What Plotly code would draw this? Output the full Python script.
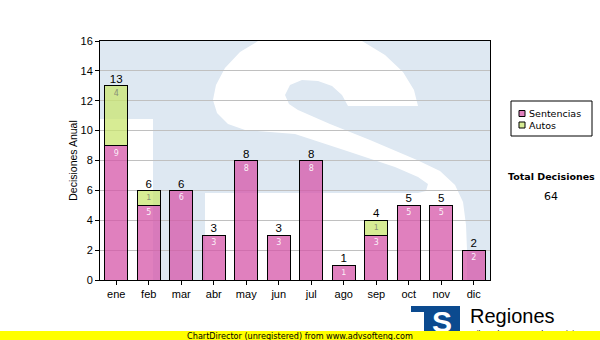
import plotly.graph_objects as go

# ---- data -------------------------------------------------------------
months = ["ene", "feb", "mar", "abr", "may", "jun", "jul", "ago", "sep", "oct", "nov", "dic"]
sentencias = [9, 5, 6, 3, 8, 3, 8, 1, 3, 5, 5, 2]
autos = [4, 1, 0, 0, 0, 0, 0, 0, 1, 0, 0, 0]
series_names = ["Sentencias", "Autos"]
y_title = "Decisiones Anual"
total_title = "Total Decisiones"
brand_name = "Regiones"
brand_sub = "Tribunal Supremo de Justicia"
banner_text = "ChartDirector (unregistered) from www.advsofteng.com"

totals = [s + a for s, a in zip(sentencias, autos)]
grand_total = sum(totals)

# ---- geometry helpers (pixel -> paper) -------------------------------
W, H = 600, 340
ML, MR, MT, MB = 100, 110, 41, 60
PW, PH = W - ML - MR, H - MT - MB


def px(x):
    return (x - ML) / PW


def py(y):
    return (H - MB - y) / PH


def path_from(points):
    return "M " + " L ".join(f"{px(x):.4f},{py(y):.4f}" for x, y in points) + " Z"


PINK = "rgba(214,86,168,0.75)"
GREEN = "rgba(202,230,112,0.75)"
PINK_SOLID = "#e080be"
GREEN_SOLID = "#d7ec94"
WM_BLUE = "#dee8f2"
LOGO_BLUE = "#0b4a8f"

fig = go.Figure()

fig.add_trace(go.Bar(
    x=months, y=sentencias, name=series_names[0],
    marker=dict(color=PINK, line=dict(color="black", width=1)),
    text=[str(v) if v else "" for v in sentencias],
    textposition="inside", insidetextanchor="end", textangle=0,
    textfont=dict(size=8, color="rgba(255,255,255,0.9)", family="Verdana, DejaVu Sans"),
    width=0.7, showlegend=False, hoverinfo="skip",
))
fig.add_trace(go.Bar(
    x=months, y=[v if v else None for v in autos], name=series_names[1],
    marker=dict(color=GREEN, line=dict(color="black", width=1)),
    text=[str(v) if v else "" for v in autos],
    textposition="inside", insidetextanchor="end", textangle=0,
    textfont=dict(size=8, color="rgba(110,110,110,0.75)", family="Verdana, DejaVu Sans"),
    width=0.7, showlegend=False, hoverinfo="skip",
))
# stack totals above each bar
fig.add_trace(go.Scatter(
    x=months, y=totals, mode="text", text=[str(t) for t in totals],
    textposition="top center", cliponaxis=False,
    textfont=dict(size=11.5, color="black", family="Arial, Liberation Sans"),
    showlegend=False, hoverinfo="skip",
))

shapes = []
# watermark: light-blue field with a white "TS" cut into it
shapes.append(dict(type="rect", xref="paper", yref="paper", x0=0, x1=1, y0=0, y1=1,
                   fillcolor=WM_BLUE, line=dict(width=0), layer="below"))
shapes.append(dict(type="rect", xref="paper", yref="paper", x0=px(100), x1=px(153),
                   y0=py(280), y1=py(119), fillcolor="white", line=dict(width=0), layer="below"))
s_outline = [
    (258, 41), (362, 41),
    (385, 55), (403, 72), (414, 90), (418, 106),
    (348, 106),
    (342, 95), (332, 86), (318, 81), (302, 80), (290, 85), (285, 95), (289, 104), (298, 110),
    (330, 124), (370, 140), (417, 160), (440, 171), (455, 185), (463, 202),
    (466, 225), (467, 250), (467, 280),
    (205, 280), (205, 193),
    (418, 193), (426, 191), (428, 184), (418, 177), (395, 167), (350, 152),
    (295, 134), (270, 132), (245, 130), (228, 124), (217, 113),
    (213, 100), (216, 85), (225, 68), (240, 52), (255, 43),
]
shapes.append(dict(type="path", xref="paper", yref="paper", path=path_from(s_outline),
                   fillcolor="white", line=dict(width=0), layer="below"))

# legend box
shapes.append(dict(type="rect", xref="paper", yref="paper", x0=px(511), x1=px(592),
                   y0=py(136), y1=py(101), fillcolor="white", line=dict(color="black", width=1)))
for i, col in enumerate([PINK_SOLID, GREEN_SOLID]):
    yc = 113.5 + i * 11.5
    shapes.append(dict(type="rect", xref="paper", yref="paper", x0=px(519), x1=px(525),
                       y0=py(yc + 3), y1=py(yc - 3), fillcolor=col,
                       line=dict(color="black", width=1)))

# brand mark
shapes.append(dict(type="rect", xref="paper", yref="paper", x0=px(411), x1=px(460),
                   y0=py(334), y1=py(306), fillcolor=LOGO_BLUE, line=dict(width=0)))
shapes.append(dict(type="rect", xref="paper", yref="paper", x0=px(411), x1=px(424),
                   y0=py(334), y1=py(312), fillcolor="white", line=dict(width=0)))

annotations = []
for i, name in enumerate(series_names):
    yc = 113.5 + i * 11.5
    annotations.append(dict(xref="paper", yref="paper", x=px(527), y=py(yc), text=name,
                            showarrow=False, xanchor="left", yanchor="middle",
                            font=dict(size=9.5, color="black", family="DejaVu Sans")))
annotations.append(dict(xref="paper", yref="paper", x=px(551), y=py(177), text=f"<b>{total_title}</b>",
                        showarrow=False, xanchor="center", yanchor="middle",
                        font=dict(size=9.5, color="black", family="DejaVu Sans")))
annotations.append(dict(xref="paper", yref="paper", x=px(551), y=py(196.5), text=str(grand_total),
                        showarrow=False, xanchor="center", yanchor="middle",
                        font=dict(size=11, color="black", family="DejaVu Sans")))
annotations.append(dict(xref="paper", yref="paper", x=px(442), y=py(321), text="<b>S</b>",
                        showarrow=False, xanchor="center", yanchor="middle",
                        font=dict(size=30, color="white", family="Liberation Sans")))
annotations.append(dict(xref="paper", yref="paper", x=px(468), y=py(316), text=brand_name,
                        showarrow=False, xanchor="left", yanchor="middle",
                        font=dict(size=20, color="black", family="Arial, Liberation Sans")))
annotations.append(dict(xref="paper", yref="paper", x=px(467), y=py(333.5), text=brand_sub,
                        showarrow=False, xanchor="left", yanchor="middle",
                        font=dict(size=8.5, color="black", family="Arial, Liberation Sans")))
annotations.append(dict(xref="paper", yref="paper", x=px(300), y=py(335.5), text=banner_text,
                        showarrow=False, xanchor="center", yanchor="middle",
                        width=600, height=10, bgcolor="#ffff00", borderpad=0, borderwidth=0,
                        font=dict(size=9, color="black",
                                  family="Liberation Sans Narrow, DejaVu Sans Condensed, Arial")))

fig.update_layout(
    width=W, height=H, margin=dict(l=ML, r=MR, t=MT, b=MB),
    paper_bgcolor="white", plot_bgcolor="rgba(0,0,0,0)",
    barmode="stack", bargap=0.3,
    showlegend=False,
    shapes=shapes, annotations=annotations,
    font=dict(family="Arial, Liberation Sans", color="black"),
    xaxis=dict(
        type="category", range=[-0.5, 11.5],
        showline=True, linecolor="black", linewidth=1, mirror=True,
        ticks="outside", ticklen=4, tickcolor="black",
        showgrid=False, tickfont=dict(size=11),
        fixedrange=True,
    ),
    yaxis=dict(
        range=[0, 16], dtick=2, tick0=0,
        showline=True, linecolor="black", linewidth=1, mirror=True,
        ticks="outside", ticklen=4, tickcolor="black",
        showgrid=True, gridcolor="#c0c0c0", gridwidth=1, zeroline=False,
        tickfont=dict(size=11),
        title=dict(text=y_title, font=dict(size=10.5), standoff=0),
        fixedrange=True,
    ),
)

fig.write_html("out.html")
